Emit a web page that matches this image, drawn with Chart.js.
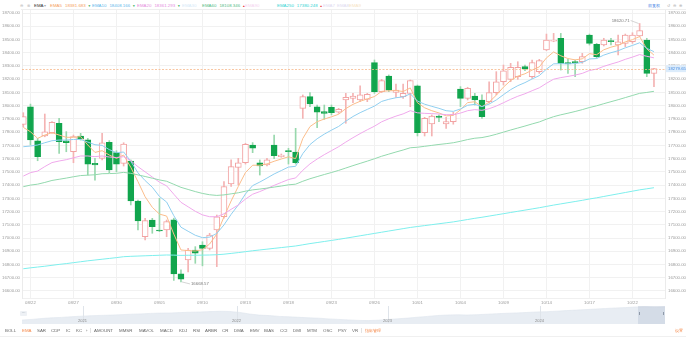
<!DOCTYPE html>
<html>
<head>
<meta charset="utf-8">
<script src="https://cdn.jsdelivr.net/npm/chart.js@4.4.1/dist/chart.umd.min.js"></script>
<style>
  html, body { margin: 0; padding: 0; background: #fff; }
  #wrap { position: relative; width: 686px; height: 338px; overflow: hidden;
          font-family: "Liberation Sans", Arial, sans-serif; }
  .t { position: absolute; white-space: nowrap; font-size: 4.4px; line-height: 6px; }
  #head .t { top: 3px; }
  #tabs .t { top: 327.5px; color: #666; }
  .sep { position: absolute; width: 1px; background: #e3e3e3; }
  canvas { position: absolute; left: 0; }
  #main { top: 10px; }
  #nav { top: 306px; }
</style>
</head>
<body>
<div id="wrap">
  <div style="position:absolute;left:21px;right:0;top:9px;height:1px;background:#eeeeee"></div>
  <div id="head">
    <div class="t" style="left:20px;color:#b5b5b5">⊖</div>
    <div class="t" style="left:27px;color:#b5b5b5">⊛</div>
    <div class="t" style="left:34px;color:#333">EMA</div>
    <div class="t" style="left:44px;color:#aaa">▾</div>
    <div class="t" style="left:648px;color:#3f82e4">前复权</div>
    <div class="t" style="left:667px;color:#b0b0b0">↺</div>
    <div class="t" style="left:673px;color:#b0b0b0">⊖</div>
    <div class="t" style="left:679px;color:#b0b0b0">⊕</div>
  </div>
  <canvas id="main" width="686" height="296"></canvas>
  <canvas id="nav" width="686" height="18"></canvas>
  <div id="navDeco"></div>
  <div id="tabs">
    <div class="t" style="left:5px">BOLL</div>
    <div class="t" style="left:22px;color:#f5894a">EMA</div>
    <div class="t" style="left:37px">SAR</div>
    <div class="t" style="left:51px">CDP</div>
    <div class="t" style="left:66px">IC</div>
    <div class="t" style="left:76px">KC</div>
    <div class="t" style="left:86px">›</div>
    <div class="sep" style="left:90px;top:328px;height:5px"></div>
    <div class="t" style="left:94px">AMOUNT</div>
    <div class="t" style="left:119px">MMSR</div>
    <div class="t" style="left:139px">MAVOL</div>
    <div class="t" style="left:160px">MACD</div>
    <div class="t" style="left:179px">KDJ</div>
    <div class="t" style="left:193px">RSI</div>
    <div class="t" style="left:205px">ARBR</div>
    <div class="t" style="left:222px">CR</div>
    <div class="t" style="left:234px">DMA</div>
    <div class="t" style="left:250px">EMV</div>
    <div class="t" style="left:264px">BIAS</div>
    <div class="t" style="left:280px">CCI</div>
    <div class="t" style="left:293px">DMI</div>
    <div class="t" style="left:307px">MTM</div>
    <div class="t" style="left:323px">OSC</div>
    <div class="t" style="left:338px">PSY</div>
    <div class="t" style="left:352px">VR</div>
    <div class="sep" style="left:361px;top:328px;height:5px"></div>
    <div class="t" style="left:365px;color:#f5894a">指标管理</div>
    <div class="t" style="left:675px;color:#f5894a">设置</div>
  </div>
</div>
<script>
// daily candles, oldest first
const dates = ['08/22', '08/27', '08/30', '09/05', '09/10', '09/13', '09/18', '09/23',
               '09/26', '10/01', '10/04', '10/09', '10/14', '10/17', '10/22'];

const opens = [17859, 17992, 17735, 17771, 17796, 17866, 17735, 17652, 17771, 17741,
  17564, 17602, 17723, 17645, 17564, 17582, 17280, 17010, 17136, 17061,
  17061, 17137, 16730, 16834, 16910, 16947, 16922, 17061, 17161, 17408,
  17534, 17569, 17703, 17569, 17552, 17703, 17615, 17660, 17650, 17980,
  18068, 17992, 17955, 17987, 17950, 18043, 18055, 18043, 18048, 18325,
  18106, 18224, 18101, 18068, 18093, 18149, 17796, 17862, 17922, 17862,
  17880, 18126, 18055, 18073, 18043, 18030, 18098, 18181, 18199, 18219,
  18295, 18219, 18257, 18421, 18488, 18509, 18325, 18332, 18332, 18534,
  18463, 18458, 18491, 18458, 18471, 18483, 18526, 18496, 18244];

const highs = [17947, 18012, 17753, 17937, 17879, 17904, 17804, 17778, 17791, 17753,
  17602, 17791, 17736, 17660, 17720, 17590, 17287, 17149, 17149, 17300,
  17136, 17150, 16760, 16922, 16935, 16972, 17036, 17174, 17426, 17590,
  17602, 17716, 17721, 17590, 17602, 17778, 17635, 17678, 17829, 18081,
  18098, 18005, 18005, 18005, 17980, 18093, 18093, 18149, 18093, 18345,
  18199, 18232, 18164, 18164, 18194, 18156, 17912, 17930, 17930, 17912,
  17950, 18144, 18139, 18093, 18081, 18181, 18257, 18307, 18320, 18332,
  18307, 18345, 18350, 18541, 18546, 18546, 18350, 18345, 18395, 18541,
  18471, 18509, 18509, 18534, 18541, 18551, 18620.71, 18509, 18282];

const lows = [17841, 17703, 17584, 17765, 17791, 17640, 17652, 17569, 17740, 17476,
  17438, 17590, 17494, 17501, 17544, 17250, 17061, 16985, 17036, 17048,
  17010, 16680, 16668.57, 16745, 16809, 16790, 16910, 16784, 17150, 17390,
  17401, 17559, 17645, 17476, 17544, 17600, 17610, 17559, 17559, 17904,
  17992, 17834, 17897, 17930, 17942, 17867, 18023, 18030, 18030, 18093,
  18098, 18106, 18063, 18055, 17992, 17771, 17771, 17771, 17879, 17829,
  17860, 17993, 18043, 18005, 17904, 18018, 18081, 18156, 18181, 18199,
  18264, 18206, 18244, 18416, 18483, 18269, 18244, 18219, 18320, 18458,
  18358, 18451, 18458, 18383, 18446, 18471, 18521, 18219, 18143];

const closes = [17917, 17741, 17614, 17803, 17874, 17728, 17720, 17766, 17751, 17559,
  17552, 17720, 17514, 17559, 17710, 17280, 17129, 17131, 17086, 17053,
  17124, 16729, 16690, 16910, 16885, 16922, 17023, 17161, 17388, 17539,
  17569, 17708, 17678, 17544, 17590, 17622, 17627, 17653, 17569, 18068,
  18013, 17950, 17942, 17947, 17972, 18063, 18073, 18081, 18086, 18106,
  18189, 18118, 18118, 18093, 18189, 17796, 17904, 17922, 17912, 17879,
  17935, 18055, 18131, 18043, 17917, 18098, 18181, 18264, 18290, 18290,
  18277, 18325, 18340, 18496, 18496, 18320, 18315, 18325, 18370, 18471,
  18370, 18496, 18483, 18483, 18534, 18534, 18567, 18244, 18279.65];

const ema5 = [17836, 17803, 17753, 17778, 17796, 17778, 17761, 17761, 17766, 17703,
  17647, 17660, 17627, 17602, 17627, 17534, 17426, 17312, 17232, 17181,
  17166, 17030, 16910, 16905, 16902, 16912, 16955, 17030, 17160, 17280,
  17390, 17495, 17550, 17550, 17560, 17580, 17597, 17614, 17600, 17752,
  17842, 17879, 17899, 17916, 17935, 17978, 18010, 18033, 18051, 18069,
  18108, 18112, 18114, 18107, 18134, 18022, 17984, 17962, 17945, 17923,
  17926, 17969, 18023, 18030, 17992, 18027, 18079, 18140, 18190, 18223,
  18241, 18269, 18293, 18361, 18406, 18377, 18356, 18346, 18354, 18393,
  18385, 18422, 18442, 18456, 18482, 18499, 18522, 18429, 18381.683];

const ema10 = [17690, 17695, 17703, 17720, 17735, 17740, 17740, 17745, 17745, 17725,
  17705, 17700, 17668, 17645, 17650, 17580, 17493, 17434, 17384, 17314,
  17272, 17169, 17082, 17051, 17021, 17003, 17007, 17035, 17099, 17179,
  17250, 17333, 17396, 17423, 17453, 17484, 17510, 17536, 17542, 17638,
  17706, 17750, 17785, 17815, 17843, 17883, 17918, 17947, 17972, 17997,
  18032, 18048, 18060, 18066, 18089, 18035, 18011, 17995, 17980, 17962,
  17957, 17975, 18003, 18010, 17993, 18012, 18043, 18083, 18121, 18151,
  18174, 18202, 18227, 18276, 18316, 18317, 18316, 18318, 18327, 18353,
  18356, 18382, 18400, 18415, 18437, 18455, 18475, 18433, 18408.166];

const ema20 = [17468, 17494, 17506, 17540, 17570, 17582, 17592, 17606, 17620, 17620,
  17615, 17620, 17612, 17608, 17615, 17584, 17539, 17500, 17461, 17422,
  17394, 17331, 17270, 17236, 17202, 17175, 17161, 17161, 17183, 17217,
  17250, 17294, 17331, 17351, 17374, 17398, 17420, 17442, 17454, 17512,
  17560, 17597, 17630, 17660, 17690, 17725, 17758, 17789, 17818, 17845,
  17878, 17901, 17921, 17938, 17962, 17946, 17942, 17940, 17937, 17932,
  17932, 17944, 17962, 17970, 17965, 17977, 17997, 18022, 18048, 18071,
  18090, 18113, 18135, 18169, 18200, 18212, 18221, 18231, 18244, 18266,
  18276, 18297, 18314, 18330, 18350, 18367, 18386, 18373, 18361.293];

const ema60 = [17388, 17400, 17407, 17420, 17435, 17444, 17453, 17463, 17472, 17475,
  17478, 17486, 17487, 17489, 17496, 17489, 17477, 17465, 17452, 17439,
  17429, 17406, 17383, 17367, 17351, 17337, 17327, 17322, 17326, 17334,
  17342, 17354, 17364, 17370, 17377, 17385, 17393, 17402, 17407, 17429,
  17448, 17464, 17480, 17495, 17511, 17529, 17547, 17564, 17581, 17599,
  17618, 17634, 17650, 17665, 17682, 17686, 17693, 17700, 17707, 17713,
  17720, 17731, 17744, 17754, 17759, 17770, 17784, 17800, 17816, 17831,
  17846, 17862, 17877, 17898, 17917, 17931, 17943, 17956, 17970, 17986,
  17999, 18015, 18030, 18045, 18061, 18077, 18093, 18100, 18108.346];

const ema250 = [16768, 16775, 16781, 16787, 16794, 16801, 16807, 16814, 16821, 16828,
  16834, 16840, 16846, 16852, 16859, 16862, 16864, 16866, 16868, 16870,
  16872, 16871, 16869, 16870, 16870, 16871, 16872, 16874, 16878, 16884,
  16890, 16897, 16904, 16910, 16916, 16922, 16928, 16934, 16940, 16949,
  16958, 16966, 16974, 16982, 16990, 16999, 17008, 17017, 17026, 17035,
  17044, 17053, 17062, 17071, 17080, 17087, 17094, 17101, 17108, 17115,
  17122, 17131, 17140, 17149, 17157, 17166, 17175, 17184, 17193, 17202,
  17211, 17220, 17229, 17239, 17249, 17258, 17267, 17276, 17285, 17295,
  17304, 17314, 17324, 17334, 17344, 17354, 17364, 17372, 17380.248];

const yTicks = [18700, 18600, 18500, 18400, 18300, 18200, 18100, 18000, 17900, 17800, 17700,
  17600, 17500, 17400, 17300, 17200, 17100, 17000, 16900, 16800, 16700, 16600];

// long-range overview shown in the navigator strip
const overview = [15010, 15180, 15430, 15620, 15740, 15930, 16070, 16210, 16290, 16370,
  16490, 16620, 16710, 16850, 16930, 16960, 17070, 17180, 17240, 17350,
  17430, 17380, 17120, 16680, 16370, 16240, 16010, 15900, 15760, 15620,
  15510, 15320, 15180, 15040, 14900, 14850, 14960, 15180, 15350, 15540,
  15790, 16010, 16260, 16400, 16460, 16400, 16490, 16620, 16760, 16880,
  16990, 17100, 17240, 17320, 17460, 17620, 17760, 17900, 18070, 18210,
  18350, 18460, 18630, 18710, 18570, 18680];
const overviewYears = ['2021', '2022', '2023', '2024'];

Chart.defaults.font.family = '"Liberation Sans", Arial, sans-serif';

const UP_LINE = '#f2a3a3', UP_WICK = '#f4b3b3';
const DOWN_FILL = '#11a54d', DOWN_WICK = '#98d8ad';
const AXIS_TEXT = '#9a9a9a';
const GRID = '#f1f1f1';
const last = closes.length - 1;
const idx = closes.map((_, i) => i);
const isUp = i => closes[i] >= opens[i];

// EMA legend along the top
const legendItems = [
  { name: 'EMA5', color: '#f5a160', values: ema5, left: 50 },
  { name: 'EMA10', color: '#5fb7ea', values: ema10, left: 92 },
  { name: 'EMA20', color: '#e58ddd', values: ema20, left: 137 },
  { name: 'EMA30', color: '#d6e9f7', values: null, left: 182 },
  { name: 'EMA60', color: '#55bb85', values: ema60, left: 202 },
  { name: 'EMA90', color: '#f5d5ef', values: null, left: 245 },
  { name: 'EMA250', color: '#33d3d3', values: ema250, left: 277 },
  { name: 'EMA7', color: '#dedaf0', values: null, left: 323 },
  { name: 'EMA8', color: '#dedaf0', values: null, left: 337 },
  { name: 'EMA9', color: '#f7e4c4', values: null, left: 349 }
];
const head = document.getElementById('head');
legendItems.forEach(item => {
  const el = document.createElement('div');
  el.className = 't';
  el.style.left = item.left + 'px';
  el.style.color = item.color;
  let html = item.name;
  if (item.values) {
    const v = item.values;
    const up = v[v.length - 1] >= v[v.length - 2];
    html += '<span style="margin-left:3px">' + v[v.length - 1].toFixed(3) + '</span>' +
      '<span style="margin-left:2px;font-size:3.2px;color:' + (up ? '#e8403f' : '#18a74e') + '">' +
      (up ? '▲' : '▼') + '</span>';
  }
  el.innerHTML = html;
  head.appendChild(el);
});

function emaLine(label, values, color) {
  return {
    type: 'line', label,
    data: values.map((v, i) => ({ x: i, y: v })),
    borderColor: color, borderWidth: 1, pointRadius: 0, tension: 0, fill: false, order: 1
  };
}

// last-price guide, high/low notes and the price tag on the right axis
const marks = {
  id: 'marks',
  afterDatasetsDraw(chart) {
    const { ctx, chartArea: a, scales: { x, y } } = chart;
    const py = Math.round(y.getPixelForValue(closes[last])) + 0.5;
    ctx.save();
    ctx.strokeStyle = '#f6b78a';
    ctx.lineWidth = 0.8;
    ctx.setLineDash([2, 1.5]);
    ctx.beginPath(); ctx.moveTo(a.left, py); ctx.lineTo(a.right, py); ctx.stroke();
    ctx.setLineDash([]);

    const hiVal = Math.max(...highs), loVal = Math.min(...lows);
    const hi = highs.indexOf(hiVal), lo = lows.indexOf(loVal);
    ctx.strokeStyle = '#b8b8b8'; ctx.lineWidth = 0.6;
    ctx.fillStyle = '#7a7a7a';
    ctx.font = '4.3px "Liberation Sans", Arial, sans-serif';
    ctx.textBaseline = 'middle';

    const hx = x.getPixelForValue(hi), hy = y.getPixelForValue(hiVal);
    ctx.beginPath(); ctx.moveTo(hx - 1, hy); ctx.lineTo(hx - 9, hy - 3); ctx.stroke();
    ctx.textAlign = 'right';
    ctx.fillText(hiVal.toFixed(2), hx - 10, hy - 3);

    const lx = x.getPixelForValue(lo), ly = y.getPixelForValue(loVal);
    ctx.beginPath(); ctx.moveTo(lx + 1, ly); ctx.lineTo(lx + 9, ly + 2); ctx.stroke();
    ctx.textAlign = 'left';
    ctx.fillText(loVal.toFixed(2), lx + 10, ly + 2);
    ctx.restore();
  },
  afterDraw(chart) {
    const { ctx, chartArea: a, scales: { y } } = chart;
    const py = y.getPixelForValue(closes[last]);
    ctx.save();
    ctx.fillStyle = '#dcecfb';
    ctx.fillRect(a.right + 1, py - 3.5, 20, 7);
    ctx.fillStyle = '#4a8de0';
    ctx.font = '4.3px "Liberation Sans", Arial, sans-serif';
    ctx.textBaseline = 'middle';
    ctx.textAlign = 'left';
    ctx.fillText(closes[last].toFixed(2), a.right + 3, py);
    ctx.restore();
  }
};

const priceAxis = (position, width, pad) => ({
  position,
  min: 16547.1, max: 18722.7,
  beginAtZero: false,
  grid: { display: position === 'left', color: GRID, drawTicks: false },
  border: { display: true, color: '#ebebeb' },
  ticks: { padding: pad, color: AXIS_TEXT, font: { size: 4.3 }, callback: v => Number(v).toFixed(2) },
  afterBuildTicks: axis => { axis.ticks = yTicks.map(v => ({ value: v })); },
  afterFit: s => { s.width = width; s.paddingTop = 0; s.paddingBottom = 0; }
});

new Chart(document.getElementById('main'), {
  type: 'bar',
  data: {
    datasets: [
      {
        label: 'range',
        data: idx.map(i => ({ x: i, y: [lows[i], highs[i]] })),
        backgroundColor: idx.map(i => isUp(i) ? UP_WICK : DOWN_WICK),
        barThickness: 1, grouped: false, order: 3
      },
      {
        label: 'body',
        data: idx.map(i => ({ x: i, y: [opens[i], closes[i]] })),
        backgroundColor: idx.map(i => isUp(i) ? '#ffffff' : DOWN_FILL),
        borderColor: idx.map(i => isUp(i) ? UP_LINE : DOWN_FILL),
        borderWidth: 1, borderSkipped: false, minBarLength: 1,
        barThickness: 6, grouped: false, order: 2
      },
      emaLine('EMA250', ema250, '#7eefed'),
      emaLine('EMA60', ema60, '#93d9ae'),
      emaLine('EMA20', ema20, '#f0a9ec'),
      emaLine('EMA10', ema10, '#90cff0'),
      emaLine('EMA5', ema5, '#fbbd8b')
    ]
  },
  options: {
    responsive: false,
    animation: false,
    events: [],
    layout: { padding: 0 },
    plugins: { legend: { display: false }, tooltip: { enabled: false } },
    scales: {
      x: {
        type: 'linear', min: -0.181, max: 89.54, offset: false,
        grid: { offset: false, color: GRID, drawTicks: false },
        border: { display: true, color: '#f0f0f0' },
        ticks: { autoSkip: false, maxRotation: 0, padding: 2.5, color: AXIS_TEXT,
                 font: { size: 4.3 }, callback: (v, i) => dates[i] },
        afterBuildTicks: axis => { axis.ticks = dates.map((d, k) => ({ value: 1 + 6 * k })); },
        afterFit: s => { s.height = 8; s.paddingLeft = 0; s.paddingRight = 0; }
      },
      y: priceAxis('left', 22, 2),
      yR: priceAxis('right', 21, 3)
    }
  },
  plugins: [marks]
});

// navigator strip
new Chart(document.getElementById('nav'), {
  type: 'line',
  data: {
    labels: overview.map((_, i) => i),
    datasets: [{
      data: overview, fill: 'start', backgroundColor: '#e8edf3',
      borderColor: '#dde4ec', borderWidth: 0.6, pointRadius: 0, tension: 0
    }]
  },
  options: {
    responsive: false, animation: false, events: [],
    layout: { padding: { left: 22, right: 21, top: 0, bottom: 0 } },
    plugins: { legend: { display: false }, tooltip: { enabled: false } },
    scales: {
      x: { display: false, offset: false },
      y: { display: false, min: 13900, max: 18900 }
    }
  }
});

const deco = document.getElementById('navDeco');
const yearLeft = [83, 237, 388, 540];
overviewYears.forEach((yr, k) => {
  deco.insertAdjacentHTML('beforeend',
    '<div class="sep" style="left:' + yearLeft[k] + 'px;top:306px;height:17px;background:#dfe4ea"></div>' +
    '<div class="t" style="left:' + (yearLeft[k] - 5) + 'px;top:318px;color:#8a8a8a;font-size:4px">' + yr + '</div>');
});
deco.insertAdjacentHTML('beforeend',
  '<div style="position:absolute;left:638px;top:306px;width:27px;height:18px;background:rgba(170,184,204,0.32)"></div>' +
  '<div class="sep" style="left:639px;top:312px;height:3px;background:#8e99a8"></div>' +
  '<div class="sep" style="left:663px;top:312px;height:3px;background:#8e99a8"></div>' +
  '<div style="position:absolute;left:20px;top:311px;width:7px;height:5px;background:#eef1f5;border-radius:1px;' +
  'font-size:4px;line-height:4px;color:#7d8896;text-align:center">···</div>' +
  '<div style="position:absolute;left:0;right:0;top:336px;height:1px;background:#f0f0f0"></div>');
</script>
</body>
</html>
